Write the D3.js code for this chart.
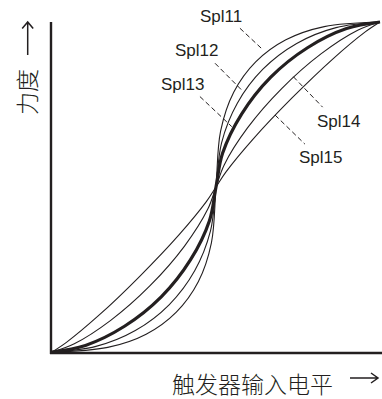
<!DOCTYPE html>
<html>
<head>
<meta charset="utf-8">
<script src="https://cdn.jsdelivr.net/npm/d3@7"></script>
<style>
  body { margin: 0; background: #fff; }
  svg { display: block; }
</style>
</head>
<body>
<script>
// canvas
var width = 382;
var height = 399;

// curve names, thick one is Spl13
var names = ["Spl11", "Spl12", "Spl13", "Spl14", "Spl15"];

// trigger level (0-100)
var spl11In = [0, 17.0, 28.7, 37.9, 44.6, 48.6, 50, 51.4, 55.4, 62.1, 71.3, 83.0, 100];
var spl12In = [0, 13.4, 25.4, 35.7, 43.5, 48.3, 50, 51.7, 56.5, 64.3, 74.6, 86.6, 100];
var spl13In = [0, 10.2, 22.1, 33.3, 42.2, 48.0, 50, 52.0, 57.8, 66.7, 77.9, 89.8, 100];
var spl14In = [0, 6.8, 17.9, 29.9, 40.4, 47.5, 50, 52.5, 59.6, 70.1, 82.1, 93.2, 100];
var spl15In = [0, 4.5, 14.5, 26.9, 38.7, 47.0, 50, 53.0, 61.3, 73.1, 85.5, 95.5, 100];

// force (0-100) at those points
var spl11Out = [0, 1.4, 5.4, 12.1, 21.3, 33.1, 50, 66.9, 78.7, 87.9, 94.6, 98.6, 100];
var spl12Out = [0, 1.7, 6.5, 14.3, 24.6, 36.6, 50, 63.4, 75.4, 85.7, 93.5, 98.3, 100];
var spl13Out = [0, 2.0, 7.8, 16.7, 27.9, 39.8, 50, 60.2, 72.1, 83.3, 92.2, 98.0, 100];
var spl14Out = [0, 2.5, 9.6, 20.1, 32.1, 43.3, 50, 56.7, 67.9, 79.9, 90.4, 97.5, 100];
var spl15Out = [0, 3.0, 11.3, 23.1, 35.5, 45.5, 50, 54.5, 64.5, 76.9, 88.7, 97.0, 100];

var inputs = [spl11In, spl12In, spl13In, spl14In, spl15In];
var outputs = [spl11Out, spl12Out, spl13Out, spl14Out, spl15Out];

// build series for d3
var series = names.map(function(n, i) {
    return {
        name: n,
        points: inputs[i].map(function(v, j) { return [v, outputs[i][j]]; })
    };
});

// label placement (in data units): text start, leader start -> leader end
var notes = [
    { name: "Spl11", tx: 45.1, ty: 100.0, x1: 57.3, y1: 98.1, x2: 64.4, y2: 91.5 },
    { name: "Spl12", tx: 37.5, ty: 89.7,  x1: 49.7, y1: 87.5, x2: 57.8, y2: 79.4 },
    { name: "Spl13", tx: 33.2, ty: 79.4,  x1: 45.1, y1: 77.4, x2: 54.8, y2: 68.3 },
    { name: "Spl14", tx: 80.8, ty: 68.2,  x1: 73.6, y1: 83.4, x2: 82.5, y2: 74.2 },
    { name: "Spl15", tx: 75.3, ty: 57.3,  x1: 68.0, y1: 71.8, x2: 77.1, y2: 63.0 }
];

var ink = "#231f20";

var svg = d3.select("body")
    .append("svg")
    .attr("width", width)
    .attr("height", height);

// scales
var x = d3.scaleLinear().domain([0, 100]).range([52, 380]);
var y = d3.scaleLinear().domain([0, 100]).range([352, 22]);

// axes (no ticks, just the lines)
svg.append("g")
    .attr("transform", "translate(" + (x(0) - 1) + ",0)")
    .call(d3.axisLeft(y).tickValues([]).tickSizeOuter(0))
    .select(".domain")
    .attr("stroke", ink)
    .attr("stroke-width", 2.4)
    .attr("d", "M0," + (y(0) + 2) + "V" + y(100));

svg.append("g")
    .attr("transform", "translate(0," + (y(0) + 1) + ")")
    .call(d3.axisBottom(x).tickValues([]).tickSizeOuter(0))
    .select(".domain")
    .attr("stroke", ink)
    .attr("stroke-width", 2.4)
    .attr("d", "M" + (x(0) - 2) + ",0H" + width);

// curves
var line = d3.line()
    .x(function(d) { return x(d[0]); })
    .y(function(d) { return y(d[1]); })
    .curve(d3.curveCatmullRom.alpha(0.5));

svg.selectAll(".curve")
    .data(series)
    .enter()
    .append("path")
    .attr("class", "curve")
    .attr("fill", "none")
    .attr("stroke", ink)
    .attr("stroke-width", function(d) { return d.name === "Spl13" ? 3.2 : 1.1; })
    .attr("d", function(d) { return line(d.points); });

// leader lines
svg.selectAll(".leader")
    .data(notes)
    .enter()
    .append("line")
    .attr("class", "leader")
    .attr("x1", function(d) { return x(d.x1); })
    .attr("y1", function(d) { return y(d.y1); })
    .attr("x2", function(d) { return x(d.x2); })
    .attr("y2", function(d) { return y(d.y2); })
    .attr("stroke", ink)
    .attr("stroke-width", 1)
    .attr("stroke-dasharray", "5,3");

// curve labels
svg.selectAll(".lbl")
    .data(notes)
    .enter()
    .append("text")
    .attr("class", "lbl")
    .attr("x", function(d) { return x(d.tx); })
    .attr("y", function(d) { return y(d.ty); })
    .attr("font-family", "Liberation Sans, Arial, sans-serif")
    .attr("font-size", 17)
    .attr("fill", ink)
    .text(function(d) { return d.name; });

// axis titles
svg.append("text")
    .attr("x", 172)
    .attr("y", 393)
    .attr("font-family", "Noto Sans CJK SC, sans-serif")
    .attr("font-weight", 300)
    .attr("font-size", 23)
    .attr("fill", ink)
    .text("触发器输入电平");

svg.append("text")
    .attr("transform", "translate(36,92) rotate(-90)")
    .attr("text-anchor", "middle")
    .attr("font-family", "Noto Sans CJK SC, sans-serif")
    .attr("font-weight", 300)
    .attr("font-size", 23)
    .attr("fill", ink)
    .text("力度");

// arrows next to titles
svg.append("path")
    .attr("fill", "none")
    .attr("stroke", ink)
    .attr("stroke-width", 1.5)
    .attr("d", "M350,378H378M371,373L378,378L371,383");

svg.append("path")
    .attr("fill", "none")
    .attr("stroke", ink)
    .attr("stroke-width", 1.5)
    .attr("d", "M27.7,55V22M22.2,28.5L27.7,22L33.2,28.5");
</script>
</body>
</html>
